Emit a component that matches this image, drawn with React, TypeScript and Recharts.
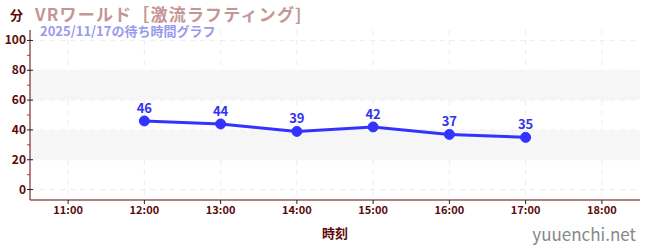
import React from 'react';
import {
  LineChart,
  Line,
  XAxis,
  YAxis,
  CartesianGrid,
  ReferenceArea,
  LabelList
} from 'recharts';

const hours = [12, 13, 14, 15, 16, 17];
const waitMinutes = [46, 44, 39, 42, 37, 35];
const xTicks = [11, 12, 13, 14, 15, 16, 17, 18];
const yTicks = [0, 10, 20, 30, 40, 50, 60, 70, 80, 90, 100];
const yMajor = [0, 20, 40, 60, 80, 100];
const bands: [number, number][] = [[20, 40], [60, 80]];

const data = hours.map((h, i) => ({ hour: h, wait: waitMinutes[i] }));

const FONT = '"Noto Sans CJK JP", "Noto Sans", sans-serif';
const AXIS = '#5c0a0a';

// major ticks get a label and a cross tick, minor ones a short red mark
const YTick = ({ x, y, payload }: any) => {
  const major = payload.value % 20 === 0;
  if (!major) {
    return <line x1={x - 3} x2={x} y1={y} y2={y} stroke="#e02020" strokeWidth={1} />;
  }
  return (
    <g>
      <line x1={x - 3} x2={x + 3} y1={y} y2={y} stroke="#222" strokeWidth={1} />
      <text x={x - 4} y={y} dy={4} textAnchor="end" fill={AXIS} fontSize={12} fontWeight="bold" fontFamily={FONT}>
        {payload.value}
      </text>
    </g>
  );
};

export default function App() {
  return (
    <div style={{ position: 'absolute', left: 0, top: 0, width: 650, height: 250, background: '#fff', fontFamily: FONT }}>
      <LineChart width={650} height={250} data={data} margin={{ top: 30, right: 10, bottom: 20, left: 0 }}>
        {bands.map(([a, b]) => (
          <ReferenceArea key={a} y1={a} y2={b} fill="#f6f6f6" fillOpacity={1} stroke="none" ifOverflow="hidden" />
        ))}
        <CartesianGrid
          stroke="#ececec"
          strokeDasharray="5 5"
          horizontalValues={yMajor}
          verticalValues={xTicks}
        />
        <XAxis
          dataKey="hour"
          type="number"
          domain={[10.5, 18.5]}
          ticks={xTicks}
          tickFormatter={(h: number) => `${h}:00`}
          stroke={AXIS}
          tick={{ fill: AXIS, fontSize: 11, fontWeight: 'bold', fontFamily: FONT }}
          tickLine={{ stroke: '#222' }}
          tickSize={4}
          height={30}
          label={{ value: '時刻', position: 'insideBottom', offset: -8, fill: AXIS, fontSize: 13, fontWeight: 'bold', fontFamily: FONT }}
        />
        <YAxis
          type="number"
          domain={[-7, 107]}
          ticks={yTicks}
          interval={0}
          allowDataOverflow
          stroke={AXIS}
          width={30}
          tickSize={0}
          tickMargin={0}
          tickLine={false}
          tick={<YTick />}
        />
        <Line
          dataKey="wait"
          stroke="#3333ff"
          strokeWidth={3}
          dot={{ r: 5, fill: '#3333ff', stroke: '#3333ff', strokeWidth: 1 }}
          isAnimationActive={false}
        >
          <LabelList dataKey="wait" position="top" offset={8} fill="#3333ee" fontSize={13} fontWeight="bold" fontFamily={FONT} />
        </Line>
      </LineChart>
      <div style={{ position: 'absolute', left: 10, top: 8, lineHeight: 1, fontSize: 13, fontWeight: 'bold', color: AXIS }}>分</div>
      <div style={{ position: 'absolute', left: 35, top: 5, lineHeight: 1, fontSize: 17, letterSpacing: 1.2, fontWeight: 'bold', color: '#c49696', whiteSpace: 'nowrap' }}>
        VRワールド［激流ラフティング]
      </div>
      <div style={{ position: 'absolute', left: 40, top: 24, lineHeight: 1, fontSize: 13, fontWeight: 'bold', color: '#9999ee', whiteSpace: 'nowrap' }}>
        2025/11/17の待ち時間グラフ
      </div>
      <div style={{ position: 'absolute', right: 14, top: 225, lineHeight: 1, fontSize: 17, color: '#888', whiteSpace: 'nowrap' }}>
        yuuenchi.net
      </div>
    </div>
  );
}
